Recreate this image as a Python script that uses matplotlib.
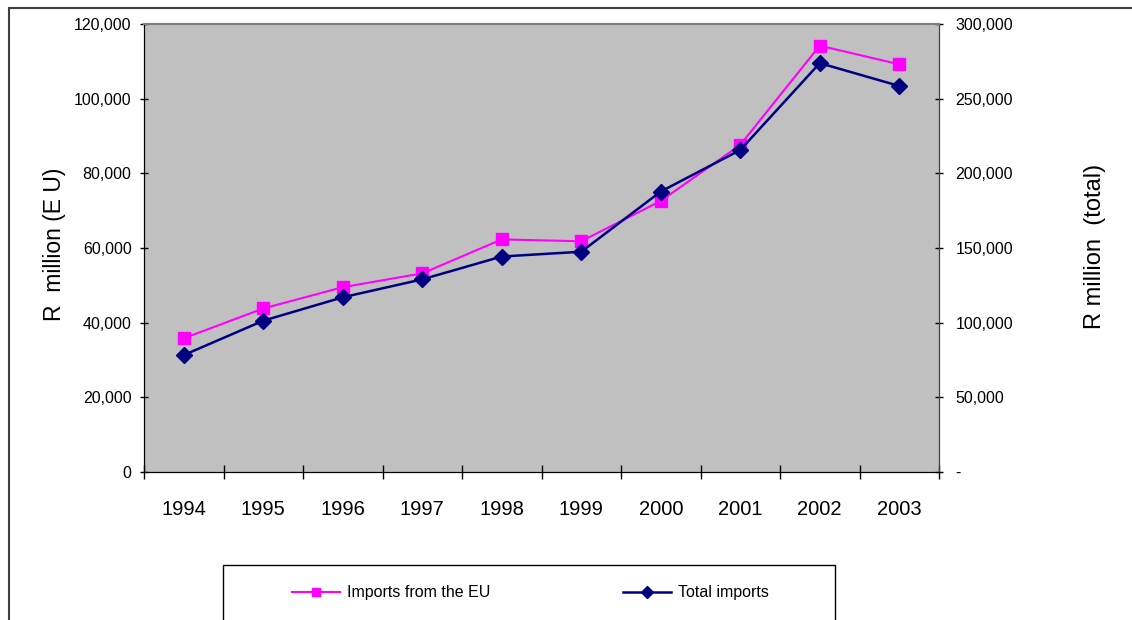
import matplotlib
matplotlib.use("Agg")
import matplotlib.pyplot as plt
from matplotlib.lines import Line2D
from matplotlib.patches import Rectangle
from matplotlib.ticker import FuncFormatter, FixedLocator

plt.rcParams['font.family'] = ['Liberation Sans', 'DejaVu Sans']

years = ['1994', '1995', '1996', '1997', '1998', '1999', '2000', '2001', '2002', '2003']
eu_imports = [35800, 43800, 49500, 53200, 62300, 61800, 72600, 87600, 114200, 109200]
total_imports = [78300, 101300, 117000, 129000, 144300, 147500, 187800, 215600, 273800, 258500]
eu_ticks = [0, 20000, 40000, 60000, 80000, 100000, 120000]
total_ticks = [0, 50000, 100000, 150000, 200000, 250000, 300000]

W, H = 1132, 620
fig = plt.figure(figsize=(W / 100, H / 100), dpi=100)

# outer chart frame
fig.add_artist(Rectangle((8.5 / W, -0.1), 1.2, 1.1 - 7.5 / H, transform=fig.transFigure,
                         fill=False, edgecolor='#404040', linewidth=1.5))

ax = fig.add_axes([144 / W, 1 - 472 / H, (939 - 144) / W, (472 - 24) / H])
ax.set_facecolor('#C0C0C0')
ax2 = ax.twinx()

x = list(range(len(years)))
pink = '#FF00FF'
navy = '#000080'

ax.plot(x, eu_imports, color=pink, linewidth=1.5, marker='s', markersize=8,
        markeredgecolor=pink, zorder=3)
ax2.plot(x, total_imports, color=navy, linewidth=1.8, marker='D', markersize=8.5,
         markeredgecolor=navy, zorder=3)

ax.set_xlim(-0.5, len(years) - 0.5)
ax.set_ylim(0, 120000)
ax2.set_ylim(0, 300000)

ax.set_xticks(x)
ax.set_xticklabels(years, fontsize=14.5)
ax.xaxis.set_minor_locator(FixedLocator([i - 0.5 for i in range(len(years) + 1)]))
ax.tick_params(axis='x', which='major', length=0, pad=20)
ax.tick_params(axis='x', which='minor', direction='inout', length=10, width=1)

ax.set_yticks(eu_ticks)
ax.yaxis.set_major_formatter(FuncFormatter(lambda v, p: f"{int(v):,}"))
ax.tick_params(axis='y', direction='inout', length=6, width=1, labelsize=11.5, pad=6)

ax2.set_yticks(total_ticks)
ax2.yaxis.set_major_formatter(FuncFormatter(lambda v, p: '-' if v == 0 else f"{int(v):,}"))
ax2.tick_params(axis='y', direction='inout', length=6, width=1, labelsize=11.5, pad=9)

for a in (ax, ax2):
    a.spines['top'].set_color('#808080')
    a.spines['top'].set_linewidth(1.5)
    a.spines['left'].set_color('black')
    a.spines['right'].set_color('#404040')
    a.spines['bottom'].set_color('black')
    for s in a.spines.values():
        s.set_zorder(4)

fig.text(55 / W, 1 - 244 / H, 'R  million (E U)', rotation=90, ha='center', va='center', fontsize=16.5)
fig.text(1095 / W, 1 - 246 / H, 'R million  (total)', rotation=90, ha='center', va='center', fontsize=17)

# legend box
fig.add_artist(Rectangle((222.5 / W, -0.1), (835 - 222.5) / W, 0.1 + 1 - 564.5 / H,
                         transform=fig.transFigure, fill=False, edgecolor='black', linewidth=1))

h_eu = Line2D([], [], color=pink, linewidth=1.5, marker='s', markersize=6)
h_tot = Line2D([], [], color=navy, linewidth=1.8, marker='D', markersize=6)
leg1 = fig.legend([h_eu], ['Imports from the EU'], loc='center left',
                  bbox_to_anchor=(292 / W, 1 - 593 / H), frameon=False, fontsize=11.5,
                  handlelength=3.0, handletextpad=0.45, borderpad=0, borderaxespad=0)
leg2 = fig.legend([h_tot], ['Total imports'], loc='center left',
                  bbox_to_anchor=(623 / W, 1 - 593 / H), frameon=False, fontsize=11.5,
                  handlelength=3.0, handletextpad=0.45, borderpad=0, borderaxespad=0)

fig.savefig('out.png', dpi=100)
